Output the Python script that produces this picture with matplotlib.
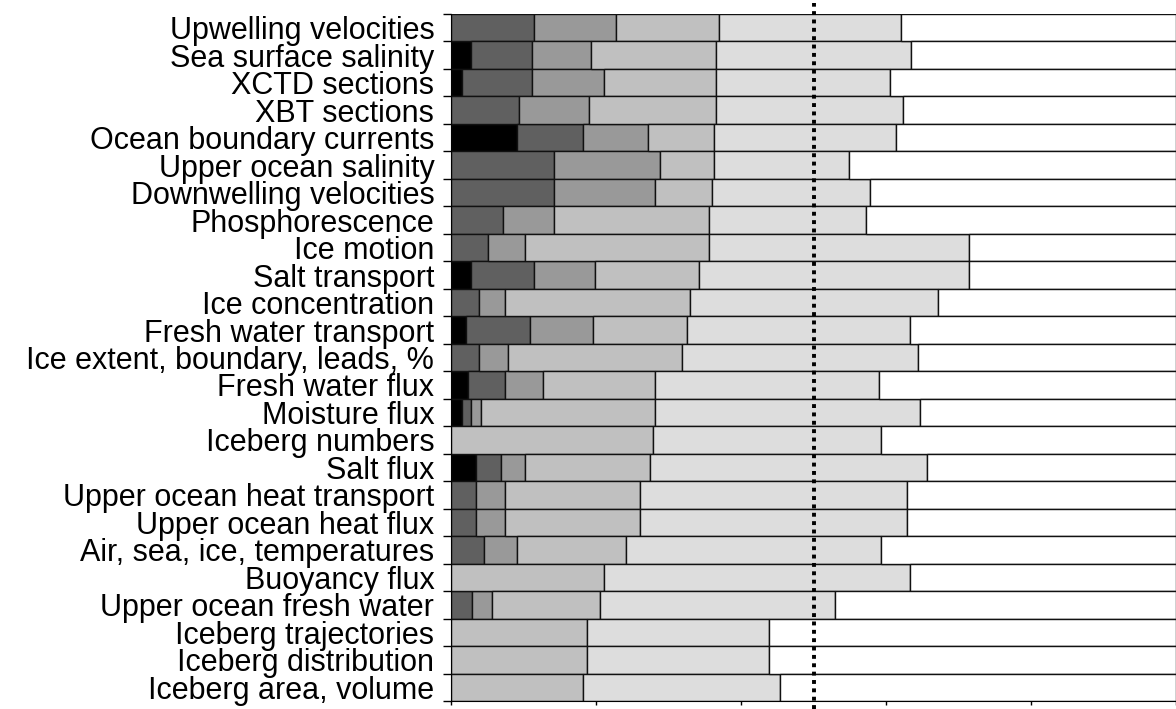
#!/usr/bin/env python
"""
stacked horizontal bars of priority shares for each observed variable
"""

import numpy as np
import matplotlib
matplotlib.use("Agg")
import matplotlib.pyplot as plt

plt.rcParams["font.family"] = ["Liberation Sans", "DejaVu Sans"]

categories = [
    "Upwelling velocities",
    "Sea surface salinity",
    "XCTD sections",
    "XBT sections",
    "Ocean boundary currents",
    "Upper ocean salinity",
    "Downwelling velocities",
    "Phosphorescence",
    "Ice motion",
    "Salt transport",
    "Ice concentration",
    "Fresh water transport",
    "Ice extent, boundary, leads, %",
    "Fresh water flux",
    "Moisture flux",
    "Iceberg numbers",
    "Salt flux",
    "Upper ocean heat transport",
    "Upper ocean heat flux",
    "Air, sea, ice, temperatures",
    "Buoyancy flux",
    "Upper ocean fresh water",
    "Iceberg trajectories",
    "Iceberg distribution",
    "Iceberg area, volume",
]

# percentages per category, six classes from darkest to white
level1 = [0, 2.7, 1.5, 0, 9.1, 0, 0, 0, 0, 2.7, 0, 2.1, 0, 2.4, 1.5, 0, 3.4,
          0, 0, 0, 0, 0, 0, 0, 0]
level2 = [11.4, 8.5, 9.7, 9.4, 9.1, 14.2, 14.2, 7.2, 5.1, 8.7, 3.9, 8.8, 3.9,
          5.1, 1.2, 0, 3.5, 3.5, 3.5, 4.5, 0, 2.9, 0, 0, 0]
level3 = [11.3, 8.1, 9.9, 9.6, 9.0, 14.6, 13.9, 7.0, 5.1, 8.5, 3.6, 8.7, 3.9,
          5.2, 1.5, 0, 3.3, 4.0, 4.0, 4.6, 0, 2.8, 0, 0, 0]
level4 = [14.2, 17.3, 15.5, 17.6, 9.1, 7.5, 7.9, 21.4, 25.4, 14.3, 25.5, 13.0,
          24.0, 15.4, 23.9, 27.8, 17.3, 18.6, 18.6, 15.1, 21.1, 14.9, 18.7,
          18.7, 18.2]
level5 = [25.2, 26.9, 24.0, 25.7, 25.1, 18.6, 21.8, 21.6, 35.8, 37.2, 34.2,
          30.7, 32.6, 30.9, 36.6, 31.5, 38.2, 36.8, 36.8, 35.1, 42.2, 32.4,
          25.2, 25.2, 27.2]

levels = [level1, level2, level3, level4, level5]
colors = ["#000000", "#606060", "#999999", "#c0c0c0", "#dddddd", "#ffffff"]

fig = plt.figure(figsize=(11.76, 7.09), dpi=100)
ax = fig.add_axes([451 / 1176, 8 / 709, 725 / 1176, 687 / 709])

y = np.arange(len(categories))
left = np.zeros(len(categories))
for vals, c in zip(levels, colors):
    ax.barh(y, vals, left=left, height=1.0, color=c, edgecolor="#111111",
            linewidth=1.0)
    left = left + np.array(vals)
# the rest of each bar is white
ax.barh(y, 100 - left, left=left, height=1.0, color=colors[-1],
        edgecolor="#111111", linewidth=1.0)

ax.axvline(50, ymin=-0.012, ymax=1.016, color="black", linewidth=2.8,
           linestyle=(0, (1, 1.15)), clip_on=False, zorder=5)

ax.set_xlim(0, 100)
ax.set_ylim(len(categories) - 0.5, -0.5)

ax.set_xticks(np.arange(0, 101, 20))
ax.set_xticklabels([])
ax.tick_params(axis="x", length=3, width=1)

ax.set_yticks(np.arange(len(categories) + 1) - 0.5)
ax.set_yticklabels([])
ax.set_yticks(y, minor=True)
ax.set_yticklabels(categories, minor=True, fontsize=22)
ax.tick_params(axis="y", which="major", length=6, width=1)
ax.tick_params(axis="y", which="minor", length=0, pad=12)

ax.spines["top"].set_visible(False)
ax.spines["right"].set_visible(False)

fig.savefig("out.png", dpi=100)
